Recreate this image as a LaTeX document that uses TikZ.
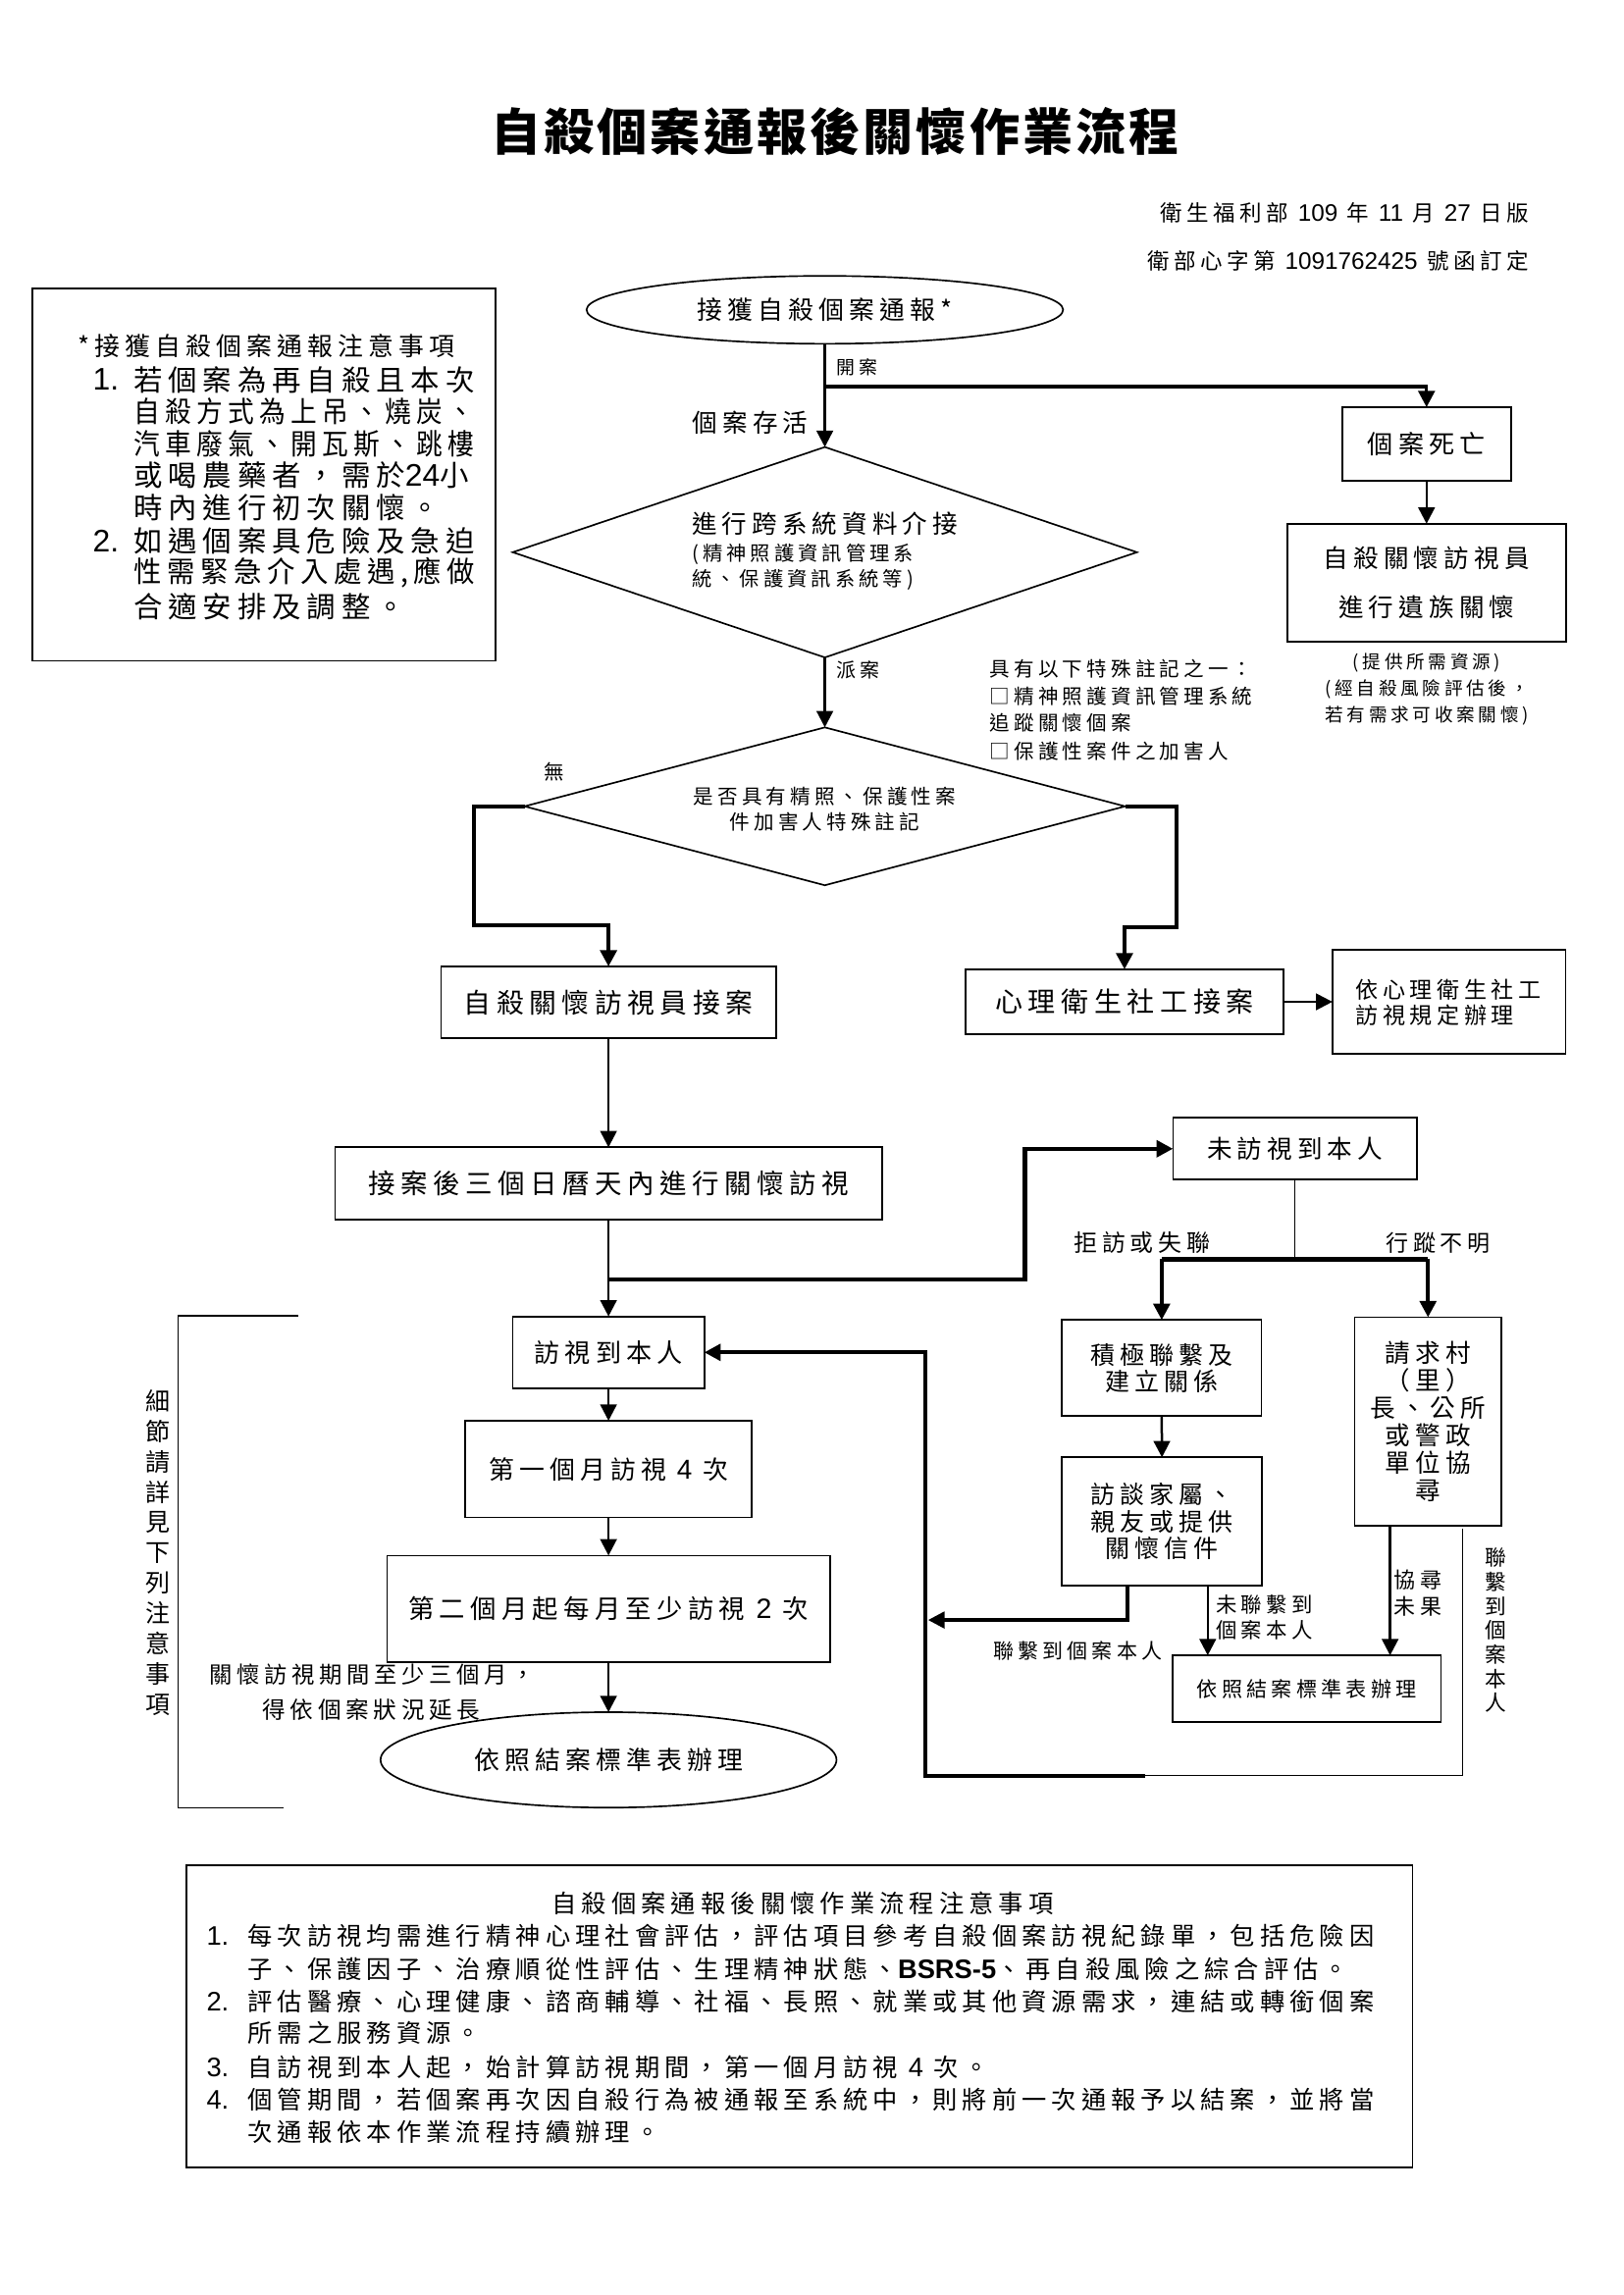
\documentclass[tikz,border=0pt]{standalone}
\usepackage{graphicx}
\usepackage{fontspec}
\setmainfont[LetterSpace=20]{Noto Sans CJK TC}
\newfontfamily\ttl[LetterSpace=6]{Noto Sans CJK TC}
\newfontfamily\lat[Scale=1.08]{Liberation Sans}
\usetikzlibrary{arrows.meta,shapes.geometric,calc}
\def\s{0.5412pt}
\newcommand\fs[2]{\fontsize{#1pt}{#2pt}\selectfont}
\begin{document}
\begin{tikzpicture}[x=0.5412pt,y=-0.5412pt,
  box/.style={draw,line width=0.6pt,inner sep=0pt,outer sep=0pt,align=center},
  ell/.style={draw,ellipse,line width=0.6pt,inner sep=0pt,outer sep=0pt,align=center},
  dia/.style={draw,diamond,line width=0.6pt,inner sep=0pt,outer sep=0pt},
  txt/.style={inner sep=0pt,outer sep=0pt,align=center},
  arr/.style={line width=0.9pt,-{Triangle[length=6pt,width=6pt]}},
  tarr/.style={line width=1.5pt,-{Triangle[length=6pt,width=6pt]}},
  tl/.style={line width=1.5pt},
  hl/.style={line width=0.5pt},
]
\fill[white] (0,0) rectangle (1100,1555.5);
\useasboundingbox (0,0) rectangle (1100,1555.5);

% title and dates
\node[txt,font={\ttl\bfseries\fs{18.4}{20}}] (title) at (566,89) {自殺個案通報後關懷作業流程};
\node[txt,anchor=east,font={\fs{8.1}{10}}] (date1) at (1036,144) {衛生福利部 {\lat 109} 年 {\lat 11} 月 {\lat 27} 日版};
\node[txt,anchor=east,font={\fs{8.1}{10}}] (date2) at (1036,177) {衛部心字第 {\lat 1091762425} 號函訂定};

% left note box
\node[box,minimum width=314*\s,minimum height=252.4*\s] (lbox) at (179,321.8) {};
\begin{scope}[every node/.style={txt,anchor=west,font={\fs{10.6}{12}}}]
\node[font={\fs{9.3}{11}}] (lb0) at (52.6,234.5) {*接獲自殺個案通報注意事項};
\node (lbn1) at (63,257.4) {{\lat 1.}};
\node (lb1) at (90.5,257.4) {若個案為再自殺且本次};
\node (lb2) at (90.5,279) {\scalebox{0.907}[1]{自殺方式為上吊、燒炭、}};
\node (lb3) at (90.5,300.6) {\scalebox{0.907}[1]{汽車廢氣、開瓦斯、跳樓}};
\node (lb4) at (90.5,322.3) {或喝農藥者，需於{\lat 24}小};
\node (lb5) at (90.5,344) {時內進行初次關懷。};
\node (lbn2) at (63,366.8) {{\lat 2.}};
\node (lb6) at (90.5,366.8) {如遇個案具危險及急迫};
\node (lb7) at (90.5,388.4) {\scalebox{0.963}[1]{性需緊急介入處遇,應做}};
\node (lb8) at (90.5,411.4) {合適安排及調整。};
\end{scope}

% top flow
\node[ell,minimum width=323*\s,minimum height=46*\s,font={\fs{9.3}{11}}] (start) at (559,210) {接獲自殺個案通報*};
\node[txt,font={\fs{9.2}{11}}] (alive) at (508.5,286.7) {個案存活};
\node[txt,anchor=west,font={\fs{6.8}{8}}] (kaian) at (567,249) {開案};
\node[box,minimum width=114.5*\s,minimum height=50*\s,font={\fs{9.4}{11}}] (dead) at (966.8,301) {個案死亡};
\node[box,minimum width=189*\s,minimum height=80*\s,font={\fs{9.2}{17.9}}] (yizu) at (966.8,395) {自殺關懷訪視員\\進行遺族關懷};
\node[txt,font={\fs{6.7}{9.7}}] (res) at (967,467) {(提供所需資源)\\(經自殺風險評估後，\\若有需求可收案關懷)};

\node[dia,minimum width=423*\s,minimum height=142.6*\s] (d1) at (559,374.3) {};
\node[txt,anchor=west,font={\fs{9.2}{11}}] (d1a) at (469,355) {進行跨系統資料介接};
\node[txt,anchor=west,font={\fs{7.3}{9}}] (d1b) at (469,375.5) {(精神照護資訊管理系};
\node[txt,anchor=west,font={\fs{7.3}{9}}] (d1c) at (469,393) {統、保護資訊系統等)};
\node[txt,anchor=west,font={\fs{7.2}{9}}] (paian) at (567,454) {派案};

\begin{scope}[every node/.style={txt,anchor=west,font={\fs{7.4}{9}}}]
\node (an1) at (671,453) {具有以下特殊註記之一：};
\node (an2) at (671,472) {□精神照護資訊管理系統};
\node (an3) at (671,490) {追蹤關懷個案};
\node (an4) at (671,509) {□保護性案件之加害人};
\end{scope}

\node[dia,minimum width=407*\s,minimum height=107*\s] (d2) at (559,546.5) {};
\node[txt,font={\fs{7.4}{9.5}}] (d2t) at (559,548.6) {是否具有精照、保護性案\\件加害人特殊註記};
\node[txt,font={\fs{7.4}{9}}] (wu) at (375.5,523) {無};

\node[box,minimum width=227*\s,minimum height=48.7*\s,font={\fs{10}{12}}] (v1) at (412.4,679.4) {自殺關懷訪視員接案};
\node[box,minimum width=215.2*\s,minimum height=44*\s,font={\fs{10.1}{12}}] (sw) at (762.1,679) {心理衛生社工接案};
\node[box,minimum width=158*\s,minimum height=70.5*\s] (yixin) at (982,679) {};
\node[txt,anchor=west,align=left,font={\fs{8.3}{9.6}}] (yixint) at (918.8,679.4) {依心理衛生社工\\訪視規定辦理};

\node[box,minimum width=370.5*\s,minimum height=49.2*\s,font={\fs{9.9}{12}}] (jah) at (412.4,802.2) {接案後三個日曆天內進行關懷訪視};
\node[box,minimum width=165.3*\s,minimum height=41.9*\s,font={\fs{9.2}{11}}] (nv) at (877.6,778.6) {未訪視到本人};
\node[box,minimum width=129.8*\s,minimum height=48.7*\s,font={\fs{9.4}{11}}] (vis) at (412.4,916.6) {訪視到本人};
\node[box,minimum width=135.3*\s,minimum height=65.1*\s,font={\fs{9}{9.8}}] (jj) at (787.3,927.2) {積極聯繫及\\建立關係};
\node[box,minimum width=99.6*\s,minimum height=141.4*\s,font={\fs{9.2}{10.1}}] (qiu) at (967.8,963.5) {請求村\\（里）\\長、公所\\或警政\\單位協\\尋};
\node[box,minimum width=135.6*\s,minimum height=86.9*\s,font={\fs{9}{9.8}}] (ft) at (787.5,1031.2) {訪談家屬、\\親友或提供\\關懷信件};

\node[box,minimum width=194*\s,minimum height=65.5*\s,font={\fs{9.3}{11}}] (m1) at (412.4,995.7) {第一個月訪視 {\lat 4} 次};
\node[box,minimum width=300*\s,minimum height=72.4*\s,font={\fs{9.5}{11}}] (m2) at (412.4,1090.5) {第二個月起每月至少訪視 {\lat 2} 次};
\node[ell,minimum width=309*\s,minimum height=64.7*\s,font={\fs{9.3}{11}}] (endl) at (412.4,1192.8) {依照結案標準表辦理};
\node[box,minimum width=181.8*\s,minimum height=45.3*\s,font={\fs{7.6}{9}}] (endr) at (885.6,1144.6) {依照結案標準表辦理};

% labels
\node[txt,font={\fs{8.6}{10}}] (jf) at (773.9,842.4) {拒訪或失聯};
\node[txt,font={\fs{8.3}{10}}] (xz) at (974.7,842.4) {行蹤不明};
\node[txt,font={\fs{7.55}{9}}] (lj1) at (730.4,1119) {聯繫到個案本人};
\node[txt,anchor=west,align=left,font={\fs{7.7}{9.5}}] (wlj) at (824,1096.3) {未聯繫到\\個案本人};
\node[txt,anchor=west,align=left,font={\fs{7.9}{9.6}}] (xx) at (944.8,1079.9) {協尋\\未果};
\node[txt,font={\fs{7.8}{8.9}}] (lj2) at (1014,1105) {聯\\繫\\到\\個\\案\\本\\人};
\node[txt,anchor=west,font={\fs{8.4}{10}}] (care1) at (142,1135) {關懷訪視期間至少三個月，};
\node[txt,anchor=west,font={\fs{8.5}{10}}] (care2) at (177.8,1158.7) {得依個案狀況延長};
\node[txt,font={\fs{9}{11.1}}] (vn) at (107.2,1052.3) {細\\節\\請\\詳\\見\\下\\列\\注\\意\\事\\項};

% bracket
\coordinate (bk1) at (202,892);
\coordinate (bk2) at (120.8,892);
\coordinate (bk3) at (120.8,1225.2);
\coordinate (bk4) at (192,1225.2);
\draw[line width=0.6pt] (bk1) -- (bk2) -- (bk3) -- (bk4);

% connectors
\draw[arr] (start.south) -- (d1.north);
\coordinate (kb) at (559,262);
\draw[arr,line width=1.2pt] (kb) -| (dead.north);
\draw[arr] (dead.south) -- (yizu.north);
\draw[arr] (d1.south) -- (d2.north);
\coordinate (dl1) at (321,546.5);
\coordinate (dl2) at (321,627);
\draw[tarr] (d2.west) -- (dl1) -- (dl2) -| (v1.north);
\coordinate (dr1) at (797.6,546.5);
\coordinate (dr2) at (797.6,628.5);
\draw[tarr] (d2.east) -- (dr1) -- (dr2) -| (sw.north);
\draw[arr] (sw.east) -- (sw.east -| yixin.west);
\draw[arr] (v1.south) -- (jah.north);
\draw[arr] (jah.south) -- (vis.north);
\coordinate (lp) at (412.4,867.4);
\coordinate (lp2) at (694.6,867.4);
\draw[tarr] (lp) -- (lp2) |- (nv.west);
\coordinate (spl) at (787.3,853.5);
\coordinate (spr) at (967.8,853.5);
\draw[hl] (nv.south) -- (nv.south |- spl);
\draw[tl] (spl) -- (spr);
\draw[arr,line width=1.4pt] (spl) -- (jj.north);
\draw[arr,line width=1.4pt] (spr) -- (qiu.north);
\draw[arr] (vis.south) -- (m1.north);
\draw[arr] (m1.south) -- (m2.north);
\draw[arr] (m2.south) -- (endl.north);
\draw[arr] (jj.south) -- (ft.north);
\coordinate (fbtip) at (629,1098);
\draw[arr,line width=1.2pt] ([xshift=-23.3*\s]ft.south) |- (fbtip);
\draw[arr] ([xshift=31*\s]ft.south) -- ([xshift=31*\s]ft.south |- endr.north);
\draw[arr] ([xshift=-25.7*\s]qiu.south) -- ([xshift=-25.7*\s]qiu.south |- endr.north);
\coordinate (bl1) at (991.4,1036.3);
\coordinate (bl2) at (991.4,1203.5);
\coordinate (bl3) at (776,1203.5);
\coordinate (bl4) at (627.3,1203.5);
\draw[hl] (bl1) -- (bl2) -- (bl3);
\draw[tarr] (bl3) -- (bl4) |- (vis.east);

% bottom notes
\node[box,minimum width=830.8*\s,minimum height=205*\s] (notes) at (541.8,1366.5) {};
\begin{scope}[every node/.style={txt,anchor=west,font={\fs{9.1}{11}}}]
\node[anchor=center] (nt) at (544,1290) {自殺個案通報後關懷作業流程注意事項};
\node (n1n) at (140,1312.3) {{\lat 1.}};
\node (n1a) at (168,1312.3) {每次訪視均需進行精神心理社會評估，評估項目參考自殺個案訪視紀錄單，包括危險因};
\node (n1b) at (168,1334.5) {子、保護因子、治療順從性評估、生理精神狀態、{\lat\bfseries BSRS-5}、再自殺風險之綜合評估。};
\node (n2n) at (140,1356.7) {{\lat 2.}};
\node (n2a) at (168,1356.7) {評估醫療、心理健康、諮商輔導、社福、長照、就業或其他資源需求，連結或轉銜個案};
\node (n2b) at (168,1377.7) {所需之服務資源。};
\node (n3n) at (140,1401) {{\lat 3.}};
\node (n3a) at (168,1401) {自訪視到本人起，始計算訪視期間，第一個月訪視 {\lat 4} 次。};
\node (n4n) at (140,1423) {{\lat 4.}};
\node (n4a) at (168,1423) {個管期間，若個案再次因自殺行為被通報至系統中，則將前一次通報予以結案，並將當};
\node (n4b) at (168,1445.3) {次通報依本作業流程持續辦理。};
\end{scope}
\end{tikzpicture}
\end{document}
